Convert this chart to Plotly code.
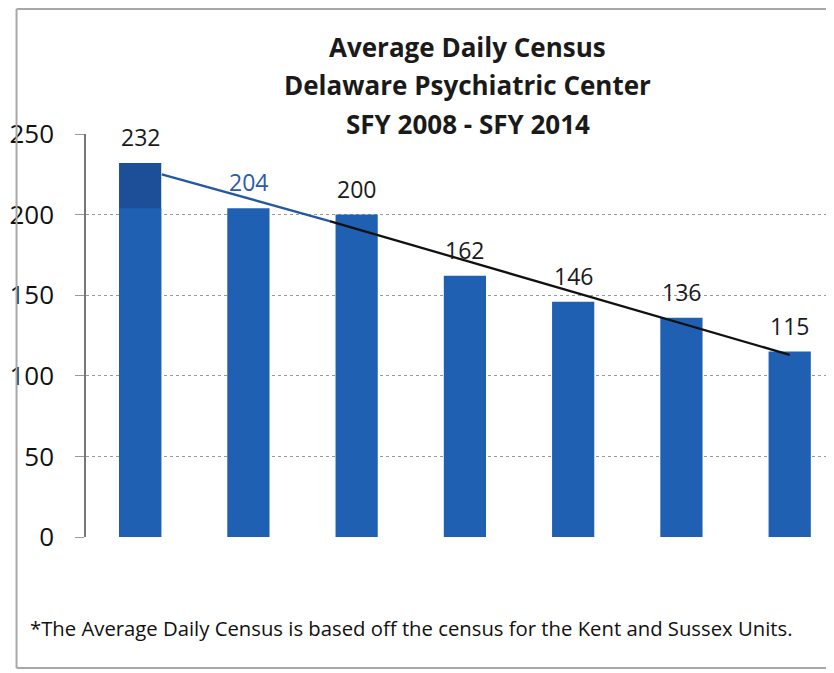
import plotly.graph_objects as go

# fiscal years (no tick labels are shown on the chart)
years = ["SFY 2008", "SFY 2009", "SFY 2010", "SFY 2011", "SFY 2012", "SFY 2013", "SFY 2014"]
census = [232, 204, 200, 162, 146, 136, 115]
y_ticks = [0, 50, 100, 150, 200, 250]
# hand-drawn trend line
trend_x = [0.2, 1.75, 6]
trend_y = [225, 196, 113]

title_lines = ["Average Daily Census", "Delaware Psychiatric Center", "SFY 2008 - SFY 2014"]
footnote = "*The Average Daily Census is based off the census for the Kent and Sussex Units."

BAR = "#2060b3"
TOP = "#1c4f98"
FONT = "Open Sans"

pos = list(range(len(years)))

fig = go.Figure()
# first bar darker on its top part
fig.add_trace(go.Bar(x=pos[:1], y=census[:1], width=0.39, marker_color=TOP,
                     marker_line_width=0, hoverinfo="skip"))
fig.add_trace(go.Bar(x=pos, y=[census[1]] + census[1:], width=0.39, marker_color=BAR,
                     marker_line_width=0))

fig.add_trace(go.Scatter(x=trend_x[:2], y=trend_y[:2], mode="lines",
                         line=dict(color="#2458a3", width=2.3), hoverinfo="skip"))
fig.add_trace(go.Scatter(x=trend_x[1:], y=trend_y[1:], mode="lines",
                         line=dict(color="#111111", width=2.3), hoverinfo="skip"))

# value labels
for i, v in enumerate(census):
    col = "#2a5ca8" if i == 1 else "#1a1a1a"
    fig.add_annotation(x=pos[i], y=v, text=str(v), showarrow=False,
                       yshift=26, font=dict(family=FONT, size=23, color=col))

# title
for k, yy in enumerate([1.216, 1.122, 1.025]):
    fig.add_annotation(xref="paper", yref="paper", x=0.511, y=yy, yanchor="middle",
                       text="<b>%s</b>" % title_lines[k], showarrow=False,
                       font=dict(family=FONT, size=26, color="#1a1a1a"))

fig.add_annotation(xref="paper", yref="paper", x=-0.078, y=-0.226, xanchor="left",
                   yanchor="middle", text=footnote, showarrow=False,
                   font=dict(family=FONT, size=20.3, color="#111111"))

# outer frame
frame = dict(type="line", xref="paper", yref="paper", line=dict(color="#a8a8a8", width=2))
fig.add_shape(x0=-0.093, x1=1.02, y0=1.31, y1=1.31, **frame)
fig.add_shape(x0=-0.093, x1=-0.093, y0=1.31, y1=-0.325, **frame)
fig.add_shape(x0=-0.093, x1=1.02, y0=-0.325, y1=-0.325, **frame)

fig.update_layout(
    width=826, height=665,
    margin=dict(l=71, r=1, t=126, b=136),
    paper_bgcolor="white", plot_bgcolor="white",
    showlegend=False, barmode="overlay",
    font=dict(family=FONT),
)
fig.update_xaxes(range=[-0.5, 6.4], showticklabels=False, showgrid=False,
                 zeroline=False, ticks="")
fig.update_yaxes(range=[0, 250], tickvals=y_ticks, showgrid=True, gridcolor="#9a9a9a",
                 griddash="dot", gridwidth=1, zeroline=False,
                 showline=True, linecolor="#777777", linewidth=1.5,
                 ticks="outside", ticklen=9, tickcolor="#9a9a9a",
                 ticklabelstandoff=16,
                 tickfont=dict(family=FONT, size=26, color="#111111"))

fig.write_html("out.html")
